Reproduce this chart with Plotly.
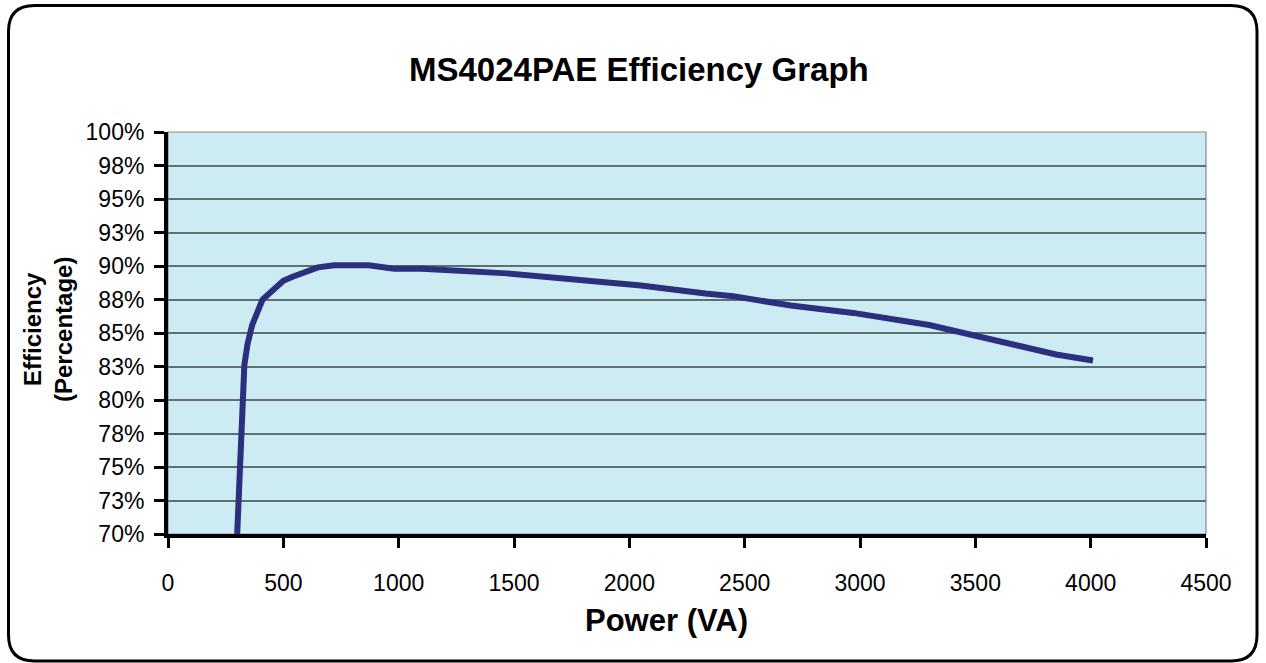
import plotly.graph_objects as go

# ---- data ----
power_va = [300, 322, 331, 345, 365, 410, 500, 540, 600, 650, 720, 870, 980, 1100,
            1470, 1760, 2050, 2330, 2450, 2700, 2810, 2970, 3300, 3450, 3720, 3850, 4010]
efficiency_pct = [70.0, 81.2, 82.6, 84.2, 85.6, 87.5, 88.9, 89.2, 89.6, 89.9, 90.05, 90.05, 89.8, 89.8,
                  89.45, 88.95, 88.55, 87.95, 87.75, 87.05, 86.85, 86.5, 85.6, 85.0, 84.0, 83.4, 82.95]

y_tick_vals = [70, 72.5, 75, 77.5, 80, 82.5, 85, 87.5, 90, 92.5, 95, 97.5, 100]
y_tick_text = ["70%", "73%", "75%", "78%", "80%", "83%", "85%", "88%", "90%", "93%", "95%", "98%", "100%"]
x_tick_vals = [0, 500, 1000, 1500, 2000, 2500, 3000, 3500, 4000, 4500]

title_text = "MS4024PAE Efficiency Graph"
x_title = "Power (VA)"
y_title = "Efficiency<br>(Percentage)"

# ---- layout geometry (pixels) ----
W, H = 1266, 663
L, R, T, B = 168, 1206, 132, 534
PW, PH = R - L, B - T


def px(xp):
    return (xp - L) / PW


def py(yp):
    return (B - yp) / PH


FONT = "Liberation Sans, Arial, sans-serif"

fig = go.Figure()
fig.add_trace(go.Scatter(
    x=power_va, y=efficiency_pct, mode="lines",
    line=dict(color="#2B2F7E", width=6),
    hoverinfo="x+y", showlegend=False,
))

# rounded outer border
x0, x1, y0, y1, r = 8.5, 1257, 5.5, 661, 26
pts = [
    f"M {px(x0 + r)},{py(y0)}",
    f"L {px(x1 - r)},{py(y0)}",
    f"Q {px(x1)},{py(y0)} {px(x1)},{py(y0 + r)}",
    f"L {px(x1)},{py(y1 - r)}",
    f"Q {px(x1)},{py(y1)} {px(x1 - r)},{py(y1)}",
    f"L {px(x0 + r)},{py(y1)}",
    f"Q {px(x0)},{py(y1)} {px(x0)},{py(y1 - r)}",
    f"L {px(x0)},{py(y0 + r)}",
    f"Q {px(x0)},{py(y0)} {px(x0 + r)},{py(y0)} Z",
]
shapes = [
    dict(type="path", xref="paper", yref="paper", path=" ".join(pts),
         line=dict(color="black", width=3), fillcolor="rgba(0,0,0,0)", layer="above"),
    dict(type="rect", xref="paper", yref="paper", x0=0, x1=1, y0=0, y1=1,
         line=dict(color="#7F8C8C", width=1.2), layer="below"),
]

annotations = [
    dict(text=f"<b>{title_text}</b>", xref="paper", yref="paper", x=px(639), y=py(69),
         xanchor="center", yanchor="middle", showarrow=False,
         font=dict(family=FONT, size=33, color="black")),
    dict(text=f"<b>{x_title}</b>", xref="paper", yref="paper", x=px(666), y=py(620),
         xanchor="center", yanchor="middle", showarrow=False,
         font=dict(family=FONT, size=31, color="black")),
    dict(text=f"<b>{y_title}</b>", xref="paper", yref="paper", x=px(48), y=py(330),
         xanchor="center", yanchor="middle", showarrow=False, textangle=-90,
         font=dict(family=FONT, size=24, color="black")),
]

fig.update_layout(
    width=W, height=H, autosize=False,
    margin=dict(l=L, r=W - R, t=T, b=H - B, pad=0),
    paper_bgcolor="white", plot_bgcolor="#CCEBF2",
    font=dict(family=FONT, color="black"),
    shapes=shapes, annotations=annotations,
    xaxis=dict(
        range=[0, 4500], tickvals=x_tick_vals, ticks="outside", ticklen=10, tickwidth=3,
        tickcolor="black", showline=True, linecolor="black", linewidth=4,
        showgrid=False, zeroline=False, tickfont=dict(size=23, family=FONT, color="black"),
        ticklabelstandoff=15, fixedrange=True,
    ),
    yaxis=dict(
        range=[70, 100], tickvals=y_tick_vals, ticktext=y_tick_text, ticks="outside",
        ticklen=10, tickwidth=3, tickcolor="black", showline=True, linecolor="black",
        linewidth=4, showgrid=True, gridcolor="#5F7070", gridwidth=1.8, zeroline=False,
        tickfont=dict(size=23, family=FONT, color="black"), ticklabelstandoff=5,
        fixedrange=True,
    ),
)

fig.write_html("out.html", config={"displayModeBar": False},
               post_script="document.body.style.margin='0';document.body.style.overflow='hidden';")
